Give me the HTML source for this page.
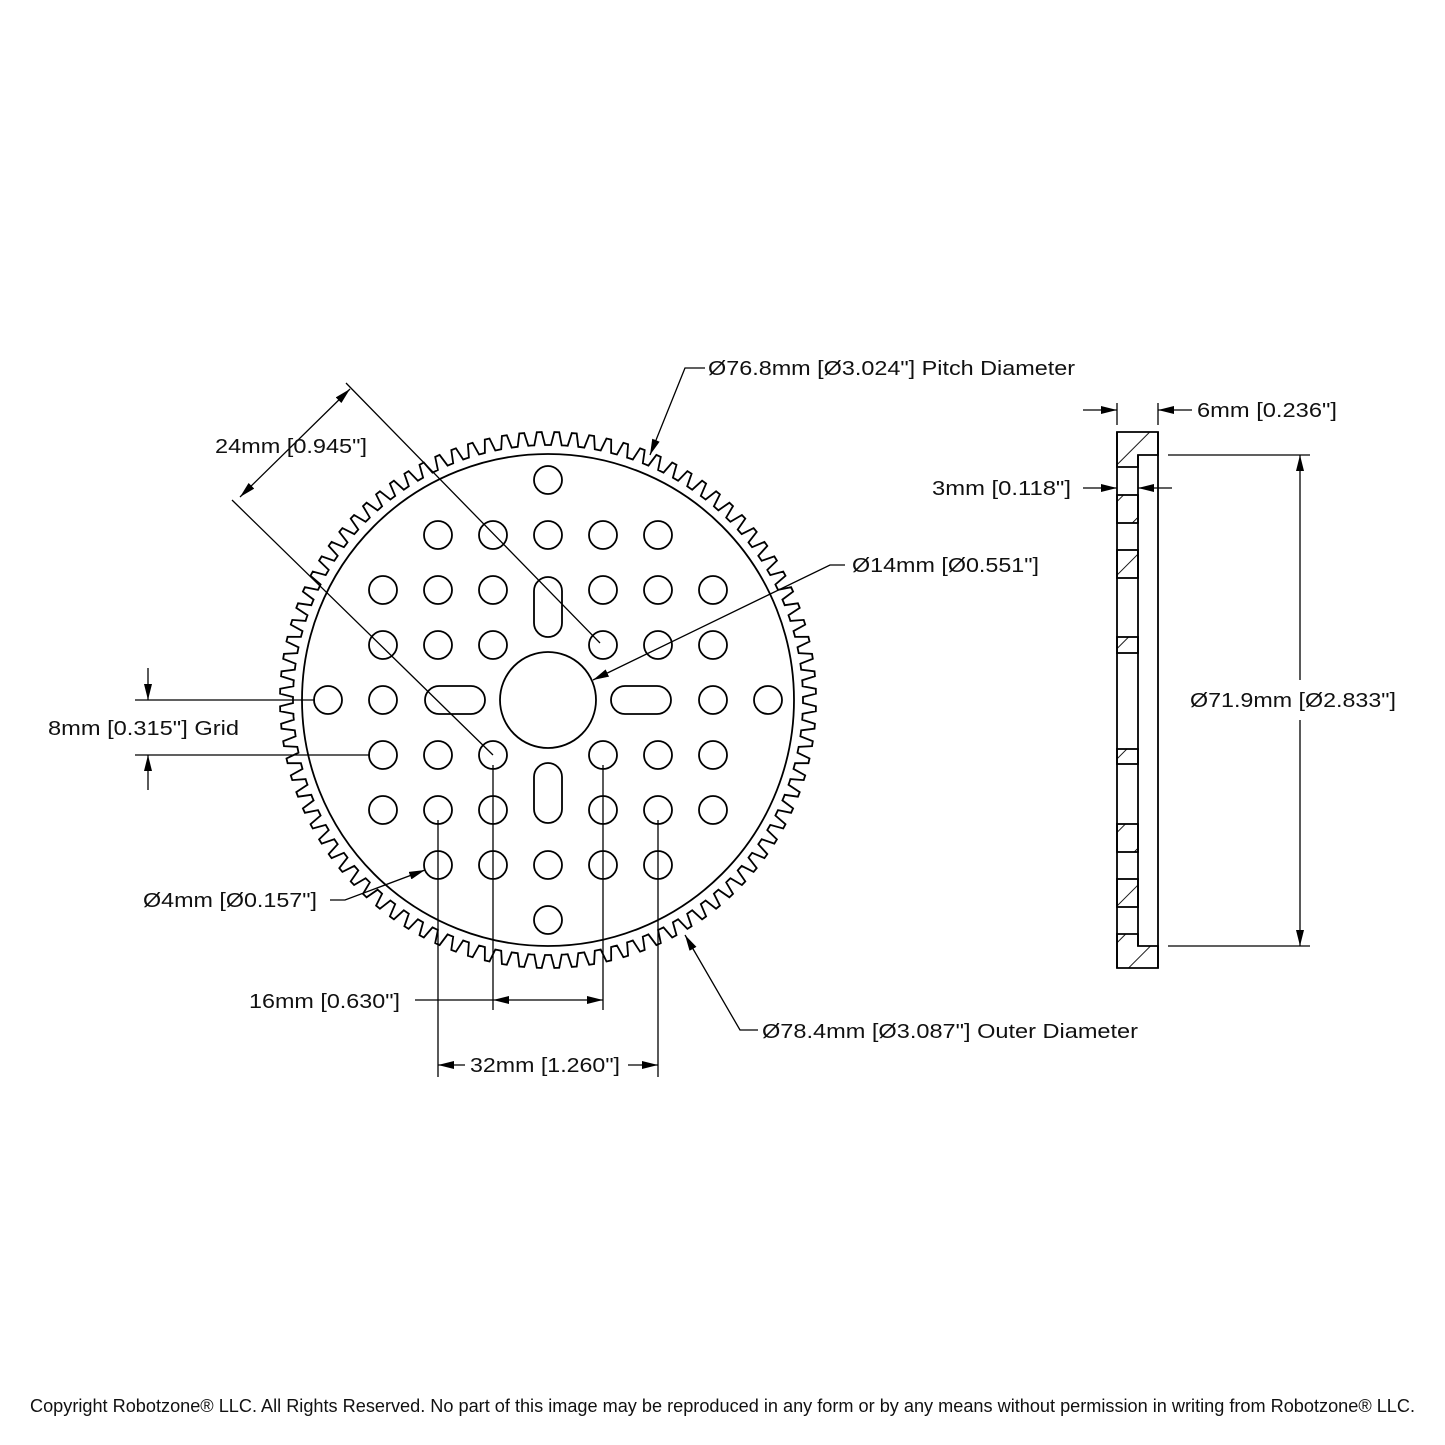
<!DOCTYPE html>
<html><head><meta charset="utf-8"><style>
html,body{margin:0;padding:0;background:#fff}
svg{display:block}
text{font-family:"Liberation Sans",sans-serif;font-size:20px;fill:#111}
</style></head><body>
<svg id="s" width="1445" height="1445" viewBox="0 0 1445 1445" xmlns="http://www.w3.org/2000/svg">
<defs>
<marker id="a" viewBox="0 0 16 8" refX="16" refY="4" markerWidth="16" markerHeight="8" markerUnits="userSpaceOnUse" orient="auto"><path d="M0,0 L16,4 L0,8 z" fill="#000"/></marker>
<marker id="b" viewBox="0 0 16 8" refX="0" refY="4" markerWidth="16" markerHeight="8" markerUnits="userSpaceOnUse" orient="auto"><path d="M16,0 L0,4 L16,8 z" fill="#000"/></marker>
<pattern id="h" patternUnits="userSpaceOnUse" width="26" height="26" patternTransform="rotate(45)"><line x1="0" y1="0" x2="0" y2="26" stroke="#000" stroke-width="1.8"/></pattern>
</defs>
<g id="g" fill="none" stroke="#000" stroke-width="1.8">
<path id="teeth" d=""/>
<circle cx="548" cy="700" r="246"/>
<circle cx="548" cy="700" r="48"/>
<rect x="534" y="577" width="28" height="60" rx="14"/>
<rect x="534" y="763" width="28" height="60" rx="14"/>
<rect x="425" y="686" width="60" height="28" rx="14"/>
<rect x="611" y="686" width="60" height="28" rx="14"/>
<g id="holes"></g>
</g>
<g fill="none" stroke="#000" stroke-width="1.3">
<polyline points="705,368 685,368 650,455" marker-end="url(#a)"/>
<line x1="346" y1="383" x2="600" y2="643"/>
<line x1="232" y1="500" x2="493" y2="755"/>
<line x1="240" y1="497" x2="350" y2="389" marker-start="url(#b)" marker-end="url(#a)"/>
<polyline points="845,565 830,565 593,680" marker-end="url(#a)"/>
<line x1="135" y1="700" x2="315" y2="700"/>
<line x1="135" y1="755" x2="370" y2="755"/>
<line x1="148" y1="668" x2="148" y2="700" marker-end="url(#a)"/>
<line x1="148" y1="790" x2="148" y2="755" marker-end="url(#a)"/>
<polyline points="330,900 345,900 425,870" marker-end="url(#a)"/>
<line x1="493" y1="765" x2="493" y2="1010"/>
<line x1="603" y1="765" x2="603" y2="1010"/>
<line x1="415" y1="1000" x2="493" y2="1000"/>
<line x1="548" y1="1000" x2="493" y2="1000" marker-end="url(#a)"/>
<line x1="548" y1="1000" x2="603" y2="1000" marker-end="url(#a)"/>
<line x1="438" y1="820" x2="438" y2="1077"/>
<line x1="658" y1="820" x2="658" y2="1077"/>
<line x1="465" y1="1065" x2="438" y2="1065" marker-end="url(#a)"/>
<line x1="628" y1="1065" x2="658" y2="1065" marker-end="url(#a)"/>
<polyline points="758,1030 740,1030 685,935" marker-end="url(#a)"/>
<line x1="1117" y1="403" x2="1117" y2="425"/>
<line x1="1158" y1="403" x2="1158" y2="425"/>
<line x1="1083" y1="410" x2="1117" y2="410" marker-end="url(#a)"/>
<line x1="1192" y1="410" x2="1158" y2="410" marker-end="url(#a)"/>
<line x1="1083" y1="488" x2="1117" y2="488" marker-end="url(#a)"/>
<line x1="1172" y1="488" x2="1138" y2="488" marker-end="url(#a)"/>
<line x1="1168" y1="455" x2="1310" y2="455"/>
<line x1="1168" y1="946" x2="1310" y2="946"/>
<line x1="1300" y1="680" x2="1300" y2="455" marker-end="url(#a)"/>
<line x1="1300" y1="720" x2="1300" y2="946" marker-end="url(#a)"/>
</g>
<g stroke="#000" stroke-width="1.8">
<path d="M1117,432 H1158 V455 H1138 V467 H1117 Z" fill="url(#h)"/>
<path d="M1117,968 H1158 V946 H1138 V934 H1117 Z" fill="url(#h)"/>
<rect x="1117" y="495" width="21" height="28" fill="url(#h)"/>
<rect x="1117" y="550" width="21" height="28" fill="url(#h)"/>
<rect x="1117" y="637" width="21" height="16" fill="url(#h)"/>
<rect x="1117" y="749" width="21" height="15" fill="url(#h)"/>
<rect x="1117" y="824" width="21" height="28" fill="url(#h)"/>
<rect x="1117" y="879" width="21" height="28" fill="url(#h)"/>
<g fill="none">
<line x1="1117" y1="432" x2="1117" y2="968"/>
<line x1="1158" y1="432" x2="1158" y2="968"/>
<line x1="1138" y1="455" x2="1138" y2="946"/>
</g>
</g>
<text x="708" y="375" textLength="367" lengthAdjust="spacingAndGlyphs">Ø76.8mm [Ø3.024"] Pitch Diameter</text>
<text x="215" y="453" textLength="152" lengthAdjust="spacingAndGlyphs">24mm [0.945"]</text>
<text x="852" y="572" textLength="187" lengthAdjust="spacingAndGlyphs">Ø14mm [Ø0.551"]</text>
<text x="48" y="735" textLength="191" lengthAdjust="spacingAndGlyphs">8mm [0.315"] Grid</text>
<text x="143" y="907" textLength="174" lengthAdjust="spacingAndGlyphs">Ø4mm [Ø0.157"]</text>
<text x="249" y="1008" textLength="151" lengthAdjust="spacingAndGlyphs">16mm [0.630"]</text>
<text x="470" y="1072" textLength="150" lengthAdjust="spacingAndGlyphs">32mm [1.260"]</text>
<text x="762" y="1038" textLength="376" lengthAdjust="spacingAndGlyphs">Ø78.4mm [Ø3.087"] Outer Diameter</text>
<text x="1197" y="417" textLength="140" lengthAdjust="spacingAndGlyphs">6mm [0.236"]</text>
<text x="932" y="495" textLength="139" lengthAdjust="spacingAndGlyphs">3mm [0.118"]</text>
<text x="1190" y="707" textLength="206" lengthAdjust="spacingAndGlyphs">Ø71.9mm [Ø2.833"]</text>
<text x="30" y="1412" style="font-size:18px" textLength="1385" lengthAdjust="spacingAndGlyphs">Copyright Robotzone® LLC.  All Rights Reserved. No part of this image may be reproduced in any form or by any means without permission in writing from Robotzone® LLC.</text>
</svg>
<script>
(function(){
var cx=548,cy=700,N=96,rt=268,rr=255,d="";
for(var i=0;i<N;i++){
 var a0=2*Math.PI*i/N, st=2*Math.PI/N;
 var pts=[[rr,a0],[rr,a0+st*0.18],[rt,a0+st*0.36],[rt,a0+st*0.64],[rr,a0+st*0.82]];
 pts.forEach(function(p,j){var x=cx+p[0]*Math.cos(p[1]),y=cy+p[0]*Math.sin(p[1]);d+=(i==0&&j==0?"M":"L")+x.toFixed(1)+","+y.toFixed(1);});
}
d+="Z";
document.getElementById("teeth").setAttribute("d",d);
var rows={"-4":[0],"-3":[-2,-1,0,1,2],"-2":[-3,-2,-1,1,2,3],"-1":[-3,-2,-1,1,2,3],"0":[-4,-3,3,4],"1":[-3,-2,-1,1,2,3],"2":[-3,-2,-1,1,2,3],"3":[-2,-1,0,1,2],"4":[0]};
var g=document.getElementById("holes"),ns="http://www.w3.org/2000/svg";
for(var j in rows){rows[j].forEach(function(k){var c=document.createElementNS(ns,"circle");c.setAttribute("cx",cx+k*55);c.setAttribute("cy",cy+(+j)*55);c.setAttribute("r",14);g.appendChild(c);});}
})();
</script>
</body></html>
